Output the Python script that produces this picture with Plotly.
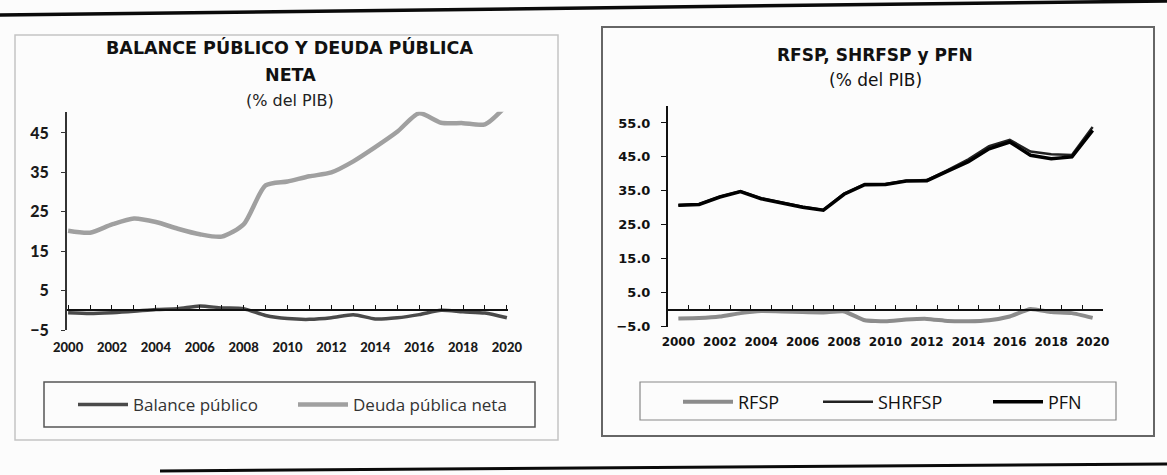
import plotly.graph_objects as go

W, H = 1167, 475

# ---------------- data ----------------
years = list(range(2000, 2021))

# left chart
deuda_publica_neta = [20.2, 19.7, 21.8, 23.3, 22.4, 20.7, 19.3, 18.7, 21.8, 31.7, 32.7,
                      34.0, 35.0, 37.8, 41.4, 45.3, 50.0, 47.6, 47.5, 47.2, 52.1]
balance_publico = [-0.6, -0.8, -0.6, -0.25, 0.2, 0.4, 1.1, 0.6, 0.4, -1.3, -2.1,
                   -2.3, -1.9, -1.1, -2.2, -1.9, -1.1, 0.0, -0.4, -0.7, -1.9]

# right chart
rfsp = [-2.6, -2.45, -2.0, -1.0, -0.4, -0.5, -0.7, -0.8, -0.5, -3.1, -3.4,
        -2.9, -2.7, -3.3, -3.4, -3.1, -2.0, 0.2, -0.7, -1.0, -2.4]
shrfsp = [30.8, 31.1, 33.3, 34.9, 32.8, 31.5, 30.3, 29.4, 34.2, 37.0, 37.0,
          38.0, 38.2, 41.1, 44.3, 48.2, 50.0, 46.6, 45.8, 45.6, 53.8]
pfn = [30.8, 31.0, 33.2, 34.8, 32.7, 31.4, 30.2, 29.3, 34.0, 36.8, 36.9,
       37.9, 38.0, 40.8, 43.6, 47.4, 49.4, 45.5, 44.5, 45.0, 52.8]

left_ytick_vals = [-5, 5, 15, 25, 35, 45]
right_ytick_vals = [-5, 5, 15, 25, 35, 45, 55]
xlabel_years = list(range(2000, 2021, 2))
left_title = "BALANCE PÚBLICO Y DEUDA PÚBLICA"
left_title2 = "NETA"
right_title = "RFSP, SHRFSP y PFN"
subtitle = "(% del PIB)"


def X(px):
    return px / W


def Y(py):
    return 1 - py / H


FONT = "Lato"
WIDE = "DejaVu Sans"
fig = go.Figure()

# ---------------- traces ----------------
fig.add_trace(go.Scatter(x=years, y=balance_publico, name="Balance público",
                         mode="lines", line=dict(color="#4a4a4a", width=3.5, shape="spline", smoothing=0.7),
                         xaxis="x3", yaxis="y", legend="legend"))
fig.add_trace(go.Scatter(x=years, y=deuda_publica_neta, name="Deuda pública neta",
                         mode="lines", line=dict(color="#a0a0a0", width=4.5, shape="spline", smoothing=0.7),
                         xaxis="x", yaxis="y", legend="legend2"))

fig.add_trace(go.Scatter(x=years, y=rfsp, name="RFSP",
                         mode="lines", line=dict(color="#8c8c8c", width=4, shape="spline", smoothing=0.4),
                         xaxis="x4", yaxis="y2", legend="legend3"))
fig.add_trace(go.Scatter(x=years, y=shrfsp, name="SHRFSP",
                         mode="lines", line=dict(color="#222222", width=2.5),
                         xaxis="x2", yaxis="y2", legend="legend4"))
fig.add_trace(go.Scatter(x=years, y=pfn, name="PFN",
                         mode="lines", line=dict(color="#000000", width=3.5),
                         xaxis="x2", yaxis="y2", legend="legend5"))

# ---------------- axes ----------------
lx0, lx1 = 67, 508
ly_top, ly_bot = 111.7, 330.0
rx0, rx1 = 668, 1103
ry_top, ry_bot = 106.0, 326.7

l_range = [-5, 50.4]
r_range = [-5, 60]
l_zero = ly_bot - (0 - l_range[0]) / (l_range[1] - l_range[0]) * (ly_bot - ly_top)
r_zero = ry_bot - (0 - r_range[0]) / (r_range[1] - r_range[0]) * (ry_bot - ry_top)

tickfont_l = dict(family=FONT, size=13, color="#1a1a1a", weight=900)
tickfont_r = dict(family=WIDE, size=12, color="#111111", weight=700)

fig.update_layout(
    xaxis=dict(domain=[X(lx0), X(lx1)], range=[1999.95, 2020.05], anchor="y", automargin=False,
               showline=False, showgrid=False, zeroline=False, ticks="",
               tickvals=xlabel_years, tickfont=tickfont_l, ticklabelstandoff=8),
    xaxis3=dict(overlaying="x", anchor="free", position=Y(l_zero), range=[1999.95, 2020.05],
                automargin=False,
                showline=True, linecolor="#111111", linewidth=2, showgrid=False, zeroline=False,
                ticks="inside", ticklen=4, tickwidth=1.2, tickcolor="#111111",
                tickvals=years, showticklabels=False),
    yaxis=dict(domain=[Y(ly_bot), Y(ly_top)], range=l_range, anchor="x", automargin=False,
               showline=True, linecolor="#333333", linewidth=2, showgrid=False, zeroline=False,
               ticks="outside", ticklen=4, tickcolor="#333333", tickvals=left_ytick_vals,
               tickfont=dict(family=FONT, size=16, color="#1a1a1a", weight=900), ticklabelstandoff=9),
    xaxis2=dict(domain=[X(rx0), X(rx1)], range=[1999.5, 2020.5], anchor="y2", automargin=False,
                showline=False, showgrid=False, zeroline=False, ticks="",
                tickvals=xlabel_years, tickfont=tickfont_r, ticklabelstandoff=6),
    xaxis4=dict(overlaying="x2", anchor="free", position=Y(r_zero), range=[1999.5, 2020.5],
                automargin=False,
                showline=True, linecolor="#111111", linewidth=2, showgrid=False, zeroline=False,
                ticks="inside", ticklen=4, tickwidth=1.2, tickcolor="#111111",
                tickvals=[y + 0.5 for y in years], showticklabels=False),
    yaxis2=dict(domain=[Y(ry_bot), Y(ry_top)], range=r_range, anchor="x2", automargin=False,
                showline=True, linecolor="#111111", linewidth=2, showgrid=False, zeroline=False,
                ticks="outside", ticklen=5, tickcolor="#111111", tickvals=right_ytick_vals,
                tickformat=".1f", tickfont=dict(family=WIDE, size=13, color="#111111", weight=700),
                ticklabelstandoff=8),
)

# ---------------- legends ----------------
leg_common = dict(orientation="h", yanchor="middle", xanchor="left", bgcolor="rgba(0,0,0,0)",
                  borderwidth=0, itemwidth=50, itemclick=False, itemdoubleclick=False)
lf = dict(family="Open Sans", size=17, color="#333333")
rf = dict(family="Open Sans", size=18, color="#111111")
fig.update_layout(
    legend=dict(x=X(73), y=Y(405), font=lf, **leg_common),
    legend2=dict(x=X(293), y=Y(405), font=lf, **leg_common),
    legend3=dict(x=X(678), y=Y(402), font=rf, **leg_common),
    legend4=dict(x=X(818), y=Y(402), font=rf, **leg_common),
    legend5=dict(x=X(988), y=Y(402), font=rf, **leg_common),
)

# ---------------- titles ----------------
ann = []
ann.append(dict(text=left_title, x=X(289), y=Y(47), font=dict(family=WIDE, size=17.5, color="#111111", weight=700)))
ann.append(dict(text=left_title2, x=X(290), y=Y(75), font=dict(family=WIDE, size=17.5, color="#111111", weight=700)))
ann.append(dict(text=subtitle, x=X(290), y=Y(100), font=dict(family=WIDE, size=16, color="#222222")))
ann.append(dict(text=right_title, x=X(875), y=Y(55), font=dict(family=WIDE, size=17, color="#111111", weight=700)))
ann.append(dict(text=subtitle, x=X(875), y=Y(80), font=dict(family=WIDE, size=17, color="#111111")))
for a in ann:
    a.update(xref="paper", yref="paper", xanchor="center", yanchor="middle", showarrow=False)
fig.update_layout(annotations=ann)

# ---------------- frames / page lines ----------------
shapes = [
    # left panel frame
    dict(type="rect", x0=X(15), x1=X(558), y0=Y(440), y1=Y(35), line=dict(color="#c4c4c4", width=1.5)),
    # left legend box
    dict(type="rect", x0=X(44), x1=X(535), y0=Y(427), y1=Y(382), line=dict(color="#555555", width=1.5)),
    # right panel frame
    dict(type="rect", x0=X(602), x1=X(1154), y0=Y(436), y1=Y(27), line=dict(color="#666666", width=2)),
    # right legend box
    dict(type="rect", x0=X(640), x1=X(1116), y0=Y(420), y1=Y(382), line=dict(color="#888888", width=1.2)),
    # page rules
    dict(type="line", x0=0, x1=1, y0=Y(15), y1=Y(1), line=dict(color="#0a0a0a", width=3.5)),
    dict(type="line", x0=X(160), x1=1, y0=Y(471), y1=Y(464), line=dict(color="#0a0a0a", width=3)),
]
for s in shapes:
    s.update(xref="paper", yref="paper", layer="below")
fig.update_layout(shapes=shapes)

fig.update_layout(width=W, height=H, autosize=False, margin=dict(l=0, r=0, t=0, b=0, autoexpand=False),
                  paper_bgcolor="#fcfcfc", plot_bgcolor="rgba(0,0,0,0)", showlegend=True)

fig.write_html("out.html", config={"displayModeBar": False},
               post_script="document.body.style.margin='0';document.body.style.overflow='hidden';")
